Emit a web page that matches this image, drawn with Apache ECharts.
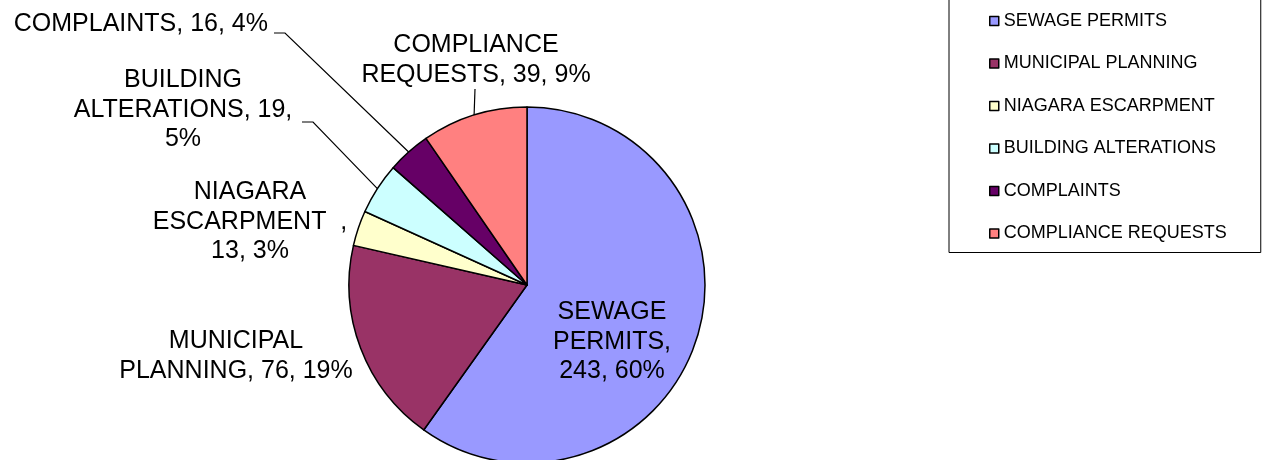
<!DOCTYPE html>
<html>
<head>
<meta charset="utf-8">
<script src="https://cdn.jsdelivr.net/npm/echarts@6/dist/echarts.min.js"></script>
<style>
  html, body { margin: 0; padding: 0; background: #fff; }
  #main { width: 1265px; height: 460px; }
</style>
</head>
<body>
<div id="main"></div>
<script>
// data
const categories = ["SEWAGE PERMITS", "MUNICIPAL PLANNING", "NIAGARA ESCARPMENT", "BUILDING ALTERATIONS", "COMPLAINTS", "COMPLIANCE REQUESTS"];
const counts = [243, 76, 13, 19, 16, 39];
const colors = ["#9999FF", "#993366", "#FFFFCC", "#CCFFFF", "#660066", "#FF8080"];

// where each label sits, and where its leader leaves the text
const labelPos = [
  { x: 612, y: 342, align: "center" },
  { x: 236, y: 356, align: "center" },
  { x: 250, y: 222, align: "center" },
  { x: 183, y: 110, align: "center", tail: [302, 122], stub: 11 },
  { x: 268, y: 24, align: "right", tail: [274, 33], stub: 11 },
  { x: 476, y: 60, align: "center", tail: [475, 89], stub: 0 },
];
const withLine = [false, false, false, true, true, true];

function labelText(p) {
  const w = p.name.split(" ");
  const tail = p.value + ", " + p.percent + "%";
  switch (p.dataIndex) {
    case 0: return w[0] + "\n" + w[1] + ",\n" + tail;
    case 2: return w[0] + "\n" + w[1] + "  ,\n" + tail;
    case 3: return w[0] + "\n" + w[1] + ", " + p.value + ",\n" + p.percent + "%";
    case 4: return w[0] + ", " + tail;
    default: return w[0] + "\n" + w[1] + ", " + tail;
  }
}

const myChart = echarts.init(document.getElementById("main"));

const option = {
  animation: false,
  legend: {
    orient: "vertical",
    left: 949,
    top: -10,
    padding: [22, 32, 10, 40],
    borderColor: "#000",
    borderWidth: 1,
    itemWidth: 9,
    itemHeight: 9,
    itemGap: 24.5,
    icon: "rect",
    selectedMode: false,
    itemStyle: { borderColor: "#000", borderWidth: 1.5 },
    textStyle: {
      color: "#000",
      fontFamily: "Liberation Sans, Arial, sans-serif",
      fontSize: 18,
      lineHeight: 18,
      width: 225,
    },
    data: categories,
  },
  series: [
    {
      type: "pie",
      center: [527, 285],
      radius: 178,
      startAngle: 90,
      clockwise: true,
      percentPrecision: 0,
      avoidLabelOverlap: false,
      emphasis: { disabled: true },
      itemStyle: { borderColor: "#000", borderWidth: 1.5 },
      label: {
        color: "#000",
        fontFamily: "Liberation Sans, Arial, sans-serif",
        fontSize: 25,
        lineHeight: 29.5,
        formatter: labelText,
      },
      labelLine: {
        lineStyle: { color: "#000", width: 1.2 },
      },
      labelLayout: function (params) {
        const pos = labelPos[params.dataIndex];
        const out = { x: pos.x, y: pos.y, align: pos.align, verticalAlign: "middle", hideOverlap: false };
        if (pos.tail && params.labelLinePoints) {
          const start = params.labelLinePoints[0];
          const pts = [start];
          if (pos.stub) pts.push([pos.tail[0] + pos.stub, pos.tail[1]]);
          pts.push(pos.tail);
          out.labelLinePoints = pts;
        }
        return out;
      },
      data: categories.map((name, i) => ({
        name: name,
        value: counts[i],
        itemStyle: { color: colors[i] },
        label: { position: i === 0 ? "inside" : "outside" },
        labelLine: { show: withLine[i] },
      })),
    },
  ],
};

myChart.setOption(option);
</script>
</body>
</html>
